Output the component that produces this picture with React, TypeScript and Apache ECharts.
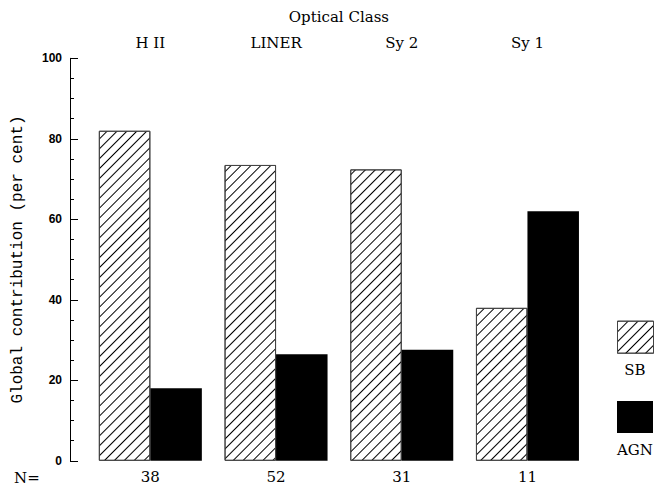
import React, { useEffect, useRef } from "react";
import * as echarts from "echarts";

// Optical classes and the share of the global contribution per component
const classes = ["H II", "LINER", "Sy 2", "Sy 1"];
const sbShare = [82.0, 73.5, 72.4, 38.0];
const agnShare = [18.0, 26.5, 27.6, 62.0];
const counts = [38, 52, 31, 11];
const yTicks = [0, 20, 40, 60, 80, 100];

const SERIF = "'DejaVu Serif', 'Liberation Serif', serif";

export default function App() {
  const ref = useRef<HTMLDivElement>(null);

  useEffect(() => {
    if (!ref.current) return;
    const chart = echarts.init(ref.current, null, { renderer: "svg" });

    // diagonal "/" hatching for the starburst bars
    const hatch = {
      symbol: "rect",
      symbolSize: 1,
      color: "#000",
      backgroundColor: "#fff",
      dashArrayX: [1, 0],
      dashArrayY: [1, 6],
      rotation: -Math.PI / 4,
    };

    chart.setOption({
      animation: false,
      backgroundColor: "#fff",
      grid: { left: 87.5, right: 66.7, top: 58.3, bottom: 27.2, containLabel: false },
      xAxis: [
        {
          type: "category",
          position: "top",
          data: classes,
          axisLine: { show: false },
          axisTick: { show: false },
          axisLabel: { color: "#000", fontFamily: SERIF, fontSize: 15, margin: 8 },
          name: "Optical Class",
          nameLocation: "middle",
          nameGap: 34,
          nameTextStyle: { color: "#000", fontFamily: SERIF, fontSize: 15 },
        },
        {
          type: "category",
          position: "bottom",
          data: counts.map(String),
          axisLine: { show: false },
          axisTick: { show: false },
          axisLabel: { color: "#000", fontFamily: SERIF, fontSize: 15, margin: 9 },
        },
      ],
      yAxis: {
        type: "value",
        min: yTicks[0],
        max: yTicks[yTicks.length - 1],
        interval: yTicks[1] - yTicks[0],
        offset: 17.5,
        splitLine: { show: false },
        axisLine: { show: true, lineStyle: { color: "#000", width: 1 } },
        axisTick: { show: true, inside: true, length: 8, lineStyle: { color: "#000" } },
        minorTick: { show: true, splitNumber: 4, length: 4, lineStyle: { color: "#000" } },
        axisLabel: {
          color: "#000",
          fontFamily: "'Liberation Sans', Arial, sans-serif",
          fontWeight: "bold",
          fontSize: 12,
          margin: 8,
        },
        name: "Global contribution (per cent)",
        nameLocation: "middle",
        nameGap: 44,
        nameTextStyle: { color: "#000", fontFamily: "'Liberation Mono', monospace", fontSize: 16 },
      },
      legend: [
        {
          data: ["SB"],
          icon: "rect",
          left: 617,
          top: 320.7,
          itemWidth: 36,
          itemHeight: 32,
          formatter: () => "",
          padding: 0,
          itemStyle: { borderColor: "#444", borderWidth: 1 },
        },
        {
          data: ["AGN"],
          icon: "rect",
          left: 617,
          top: 401,
          itemWidth: 36,
          itemHeight: 32,
          formatter: () => "",
          padding: 0,
        },
      ],
      graphic: [
        {
          type: "text",
          left: 14,
          top: 470,
          style: { text: "N=", fill: "#000", font: `15px ${SERIF}` },
        },
        {
          type: "text",
          x: 635,
          y: 370,
          style: { text: "SB", fill: "#000", font: `15px ${SERIF}`, align: "center", verticalAlign: "middle" },
        },
        {
          type: "text",
          x: 635,
          y: 450,
          style: { text: "AGN", fill: "#000", font: `15px ${SERIF}`, align: "center", verticalAlign: "middle" },
        },
      ],
      series: [
        {
          name: "SB",
          type: "bar",
          xAxisIndex: 0,
          data: sbShare,
          barWidth: 51.5,
          barGap: "0%",
          itemStyle: { color: "#fff", borderColor: "#444", borderWidth: 1, decal: hatch },
        },
        {
          name: "AGN",
          type: "bar",
          xAxisIndex: 0,
          data: agnShare,
          barWidth: 51.5,
          barGap: "0%",
          itemStyle: { color: "#000" },
        },
      ],
    });

    return () => chart.dispose();
  }, []);

  return (
    <div
      ref={ref}
      style={{ position: "absolute", left: 0, top: 0, width: 657, height: 488 }}
    />
  );
}
